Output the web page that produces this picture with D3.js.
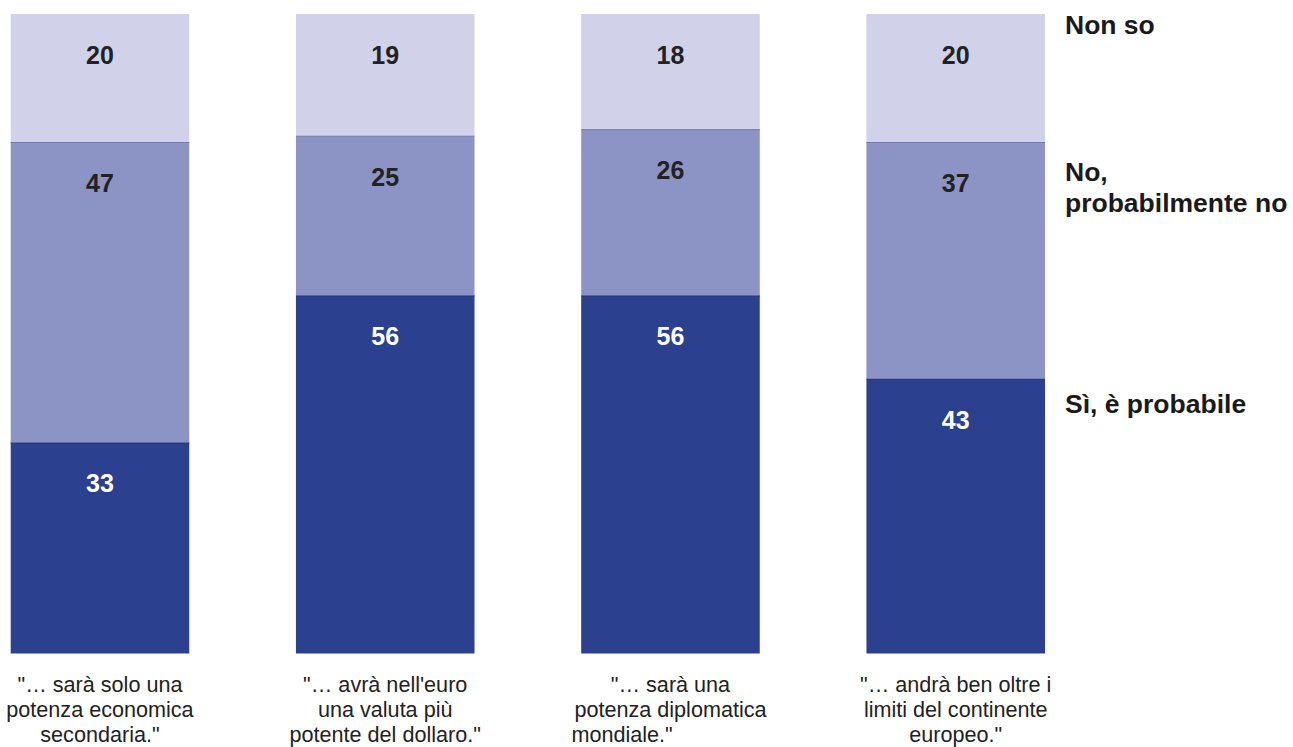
<!DOCTYPE html>
<html>
<head>
<meta charset="utf-8">
<script src="https://cdn.jsdelivr.net/npm/d3@7"></script>
<style>
  body { margin: 0; background: #fff; }
  text { font-family: "Liberation Sans", Arial, Helvetica, sans-serif; }
</style>
</head>
<body>
<div id="chart"></div>
<script>
// ************ Data ************
var categories = [
  ['"… sarà solo una', 'potenza economica', 'secondaria."'],
  ['"… avrà nell\'euro', 'una valuta più', 'potente del dollaro."'],
  ['"… sarà una', 'potenza diplomatica', 'mondiale."'],
  ['"… andrà ben oltre i', 'limiti del continente', 'europeo."']
];
var seriesNames = ['Sì, è probabile', 'No, probabilmente no', 'Non so'];
var si = [33, 56, 56, 43];
var no = [47, 25, 26, 37];
var nonSo = [20, 19, 18, 20];

var colors = ['#2b418f', '#8c93c5', '#d1d1e9'];
var edgeColors = ['#23367a', '#747bb3', '#c4c4de'];
var valueColors = ['#ffffff', '#222222', '#222222'];

// ************ Setup ************
var svg = d3.select('#chart').append('svg')
            .attr('width', 1293)
            .attr('height', 747);

var rows = categories.map(function(c, i) {
  return { key: i, si: si[i], no: no[i], nonSo: nonSo[i] };
});
var stack = d3.stack().keys(['si', 'no', 'nonSo']);
var layers = stack(rows);

var x = d3.scaleBand()
          .domain(d3.range(categories.length))
          .range([10.7, 1045])
          .paddingInner(0.374)
          .paddingOuter(0);

var y = d3.scaleLinear()
          .domain([0, 100])
          .range([653.5, 14]);

// ************ Bars ************
var layerG = svg.selectAll('g.layer')
                .data(layers)
                .enter().append('g')
                .attr('class', 'layer');

layerG.selectAll('rect')
      .data(function(d) { return d; })
      .enter().append('rect')
      .attr('x', function(d, i) { return x(i); })
      .attr('y', function(d) { return y(d[1]); })
      .attr('width', x.bandwidth())
      .attr('height', function(d) { return y(d[0]) - y(d[1]); })
      .style('fill', function() { return colors[d3.select(this.parentNode).datum().index]; });

// thin darker line at the top of each segment
layerG.selectAll('line')
      .data(function(d) { return d; })
      .enter().append('line')
      .attr('x1', function(d, i) { return x(i); })
      .attr('x2', function(d, i) { return x(i) + x.bandwidth(); })
      .attr('y1', function(d) { return y(d[1]) + 0.5; })
      .attr('y2', function(d) { return y(d[1]) + 0.5; })
      .style('stroke', function() { return edgeColors[d3.select(this.parentNode).datum().index]; })
      .style('stroke-width', 1.2)
      .style('display', function() { return d3.select(this.parentNode).datum().index === 2 ? 'none' : null; });

// value labels
layerG.selectAll('text')
      .data(function(d) { return d; })
      .enter().append('text')
      .attr('x', function(d, i) { return x(i) + x.bandwidth() / 2; })
      .attr('y', function(d) { return y(d[1]) + 50; })
      .attr('text-anchor', 'middle')
      .style('font-size', '25px')
      .style('font-weight', 'bold')
      .style('fill', function() { return valueColors[d3.select(this.parentNode).datum().index]; })
      .text(function(d) { return d[1] - d[0]; });

// ************ Legend (right of last bar) ************
var last = categories.length - 1;
var legendX = x(last) + x.bandwidth() + 20;
var legendLines = [
  { lines: ['Sì, è probabile'], top: y(layers[0][last][1]), dy: 34 },
  { lines: ['No,', 'probabilmente no'], top: y(layers[1][last][1]), dy: 39 },
  { lines: ['Non so'], top: y(layers[2][last][1]), dy: 20 }
];
legendLines.forEach(function(l) {
  var t = svg.append('text')
             .attr('x', legendX)
             .attr('y', l.top + l.dy)
             .style('font-size', '26.5px')
             .style('font-weight', 'bold')
             .style('fill', '#1a1a1a');
  l.lines.forEach(function(s, j) {
    t.append('tspan')
     .attr('x', legendX)
     .attr('dy', j === 0 ? 0 : 31)
     .text(s);
  });
});

// ************ Category labels ************
categories.forEach(function(lines, i) {
  var cx = x(i) + x.bandwidth() / 2;
  var g = svg.append('g');
  var nodes = lines.map(function(s, j) {
    return g.append('text')
            .attr('x', cx)
            .attr('y', 692 + j * 25)
            .attr('text-anchor', 'middle')
            .style('font-size', '21.6px')
            .style('fill', '#222')
            .text(s);
  });
  // the third label's last line sits flush left in the original
  if (i === 2) {
    var w = nodes[1].node().getComputedTextLength();
    nodes[2].attr('text-anchor', 'start').attr('x', cx - w / 2 - 3);
  }
});
</script>
</body>
</html>
